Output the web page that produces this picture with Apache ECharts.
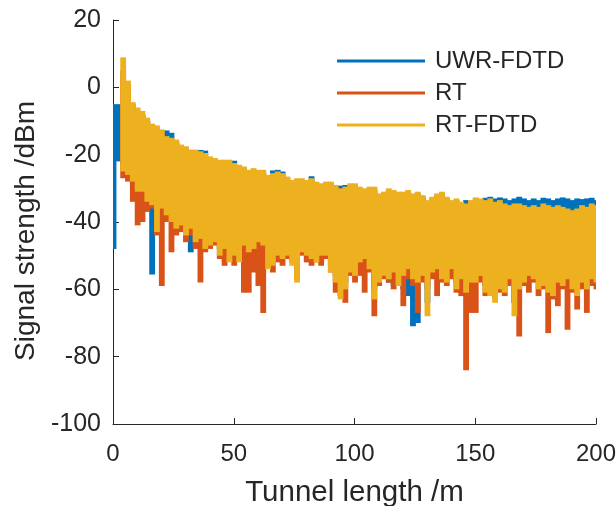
<!DOCTYPE html>
<html lang="en">
<head>
<meta charset="UTF-8">
<title>Signal strength along the tunnel</title>
<script src="https://cdn.jsdelivr.net/npm/echarts@6.0.0/dist/echarts.min.js"></script>
<style>
  body { margin: 0; background: #fff; }
  #chart { width: 616px; height: 506px; }
</style>
</head>
<body>
<div id="chart"></div>
<script>
// Each trace is kept as an upper and lower value per 2 m sample (x = 0, 2, ..., 200),
// read off the dense measured curve.
const seriesNames = ['UWR-FDTD', 'RT', 'RT-FDTD'];
const seriesColors = ['#0072BD', '#D95319', '#EDB120'];
const stepM = 2;
const xTicks = [0, 50, 100, 150, 200];

const uwrTop = [
  -5, -5, -5.5, -7, -8, -8, -8.5, -10, -11.5, -12, -13, -12.8, -13.5, -16, -17.5, -18, -19, -19, -18.6, -18.8,
  -21, -21.5, -22, -22, -22, -21.8, -23.5, -24, -25, -24.5, -25, -25, -26.5, -24.7, -24.5, -25, -27, -28, -27.5, -27.5,
  -28, -26.4, -28.5, -29, -28.5, -28.5, -29.5, -29.2, -29, -29, -29, -30, -30.5, -30, -30, -32, -31.5, -30.5, -31, -31.5,
  -31.5, -31, -32, -31.5, -32.5, -34, -33, -32, -31.5, -33, -34, -33.5, -34.5, -33.5, -34, -33, -33.5, -32.8, -32.5, -33,
  -32.7, -33, -33.5, -33, -32.5, -33, -33.5, -33, -33.5, -32.8, -33, -33.5, -33, -32.7, -33, -33.5, -33, -33.2, -33, -32.8,
  -33.5
];
const uwrBottom = [
  -48, -22, -23, -25, -27, -29, -30, -33, -55.6, -38, -35, -37, -39, -40, -40, -43, -49, -44, -44, -46,
  -45, -45, -48, -47, -49, -48, -50, -46, -48, -47, -45, -46, -52, -51, -49, -50, -49, -51, -55, -48,
  -49, -50, -50, -49, -49, -53, -56, -60, -58, -53, -54, -51, -50, -52, -60, -56, -55, -58, -59, -58,
  -60, -62, -71, -70, -57, -64, -56, -57, -56, -56, -53, -58, -56, -59, -56, -56, -55, -59, -60, -61,
  -58, -59, -56, -64, -58, -56, -55, -56, -58, -57, -59, -60, -57, -57, -56, -58, -60, -57, -58, -56,
  -57
];

const rtTop = [
  null, null, 5, 1, -5, -7, -8, -10, -11.5, -12.5, -13.5, -15.5, -16, -16.5, -18, -18.5, -19.5, -19.5, -20, -20.5,
  -21.5, -22, -22.5, -22.5, -22.5, -23.5, -24, -24.5, -25.5, -25, -25.5, -25.5, -27, -26.5, -26, -26.5, -27.5, -28.5, -28, -28,
  -28.5, -28, -29, -29.5, -29, -29, -30, -31, -30.5, -29.5, -29.5, -30.5, -31, -30.5, -30.5, -32.5, -32, -31, -31.5, -32,
  -32, -31.5, -32.5, -32, -33, -34.5, -33.5, -32.5, -32, -33.5, -34.5, -34, -35, -35.5, -34.5, -34, -34, -34.5, -34, -35,
  -34.5, -35.5, -36, -35.5, -35.5, -36, -36.5, -36, -36.5, -35.5, -36, -36.5, -36, -36.5, -37, -37.5, -37, -36, -36.5, -35.5,
  -36
];
const rtBottom = [
  null, null, -27, -28, -34, -41, -40, -37, -36, -44, -59, -40, -49, -44, -43, -46, -44, -48, -58, -49,
  -48, -47, -51, -53, -50, -53, -51, -61, -61, -55, -59, -67, -50, -55, -52, -53, -51, -52, -57, -50,
  -52, -53, -52, -53, -51, -55, -61, -62, -64, -56, -58, -56, -61, -55, -68, -59, -57, -58, -60, -59,
  -65, -57, -59, -67, -58, -60, -57, -62, -58, -59, -57, -61, -62, -84, -67, -67, -58, -62, -60, -63,
  -61, -62, -59, -64, -74, -59, -61, -58, -62, -60, -73, -63, -65, -60, -72, -61, -66, -60, -67, -59,
  -60
];

const rtFdtdTop = [
  null, null, 8.9, 2, -4.4, -6, -7, -9, -10.8, -11.3, -12.5, -14.5, -15, -15.5, -17, -17.5, -18.5, -18.5, -19, -19.5,
  -20.5, -21, -21.5, -21.5, -21.5, -22.5, -23, -23.5, -24.5, -24, -24.5, -24.5, -26, -25.5, -25, -25.5, -26.5, -27.5, -27, -27,
  -27.5, -27, -28, -28.5, -28, -28, -29, -30, -29.5, -28.5, -28.5, -29.5, -30, -29.5, -29.5, -31.5, -31, -30, -30.5, -31,
  -31, -30.5, -31.5, -31, -32, -33.5, -32.5, -31.5, -31, -32.5, -33.5, -33, -34, -34.5, -33.5, -32.7, -33, -33.5, -33, -34,
  -33.5, -34.5, -35, -34.5, -34.5, -35, -35.5, -35, -35.5, -34.5, -35, -35.5, -35, -35.5, -36, -36.5, -36, -35, -35.5, -34.5,
  -35
];
const rtFdtdBottom = [
  null, null, -25, -26, -28, -31, -31, -34, -35, -43, -36, -38, -40, -42, -41, -44, -42, -46, -45, -48,
  -47, -46, -50, -48, -52, -50, -52, -47, -49, -48, -46, -47, -54, -53, -50, -51, -50, -53, -58, -49,
  -50, -51, -52, -50, -50, -55, -58, -63, -60, -55, -56, -52, -51, -54, -63, -58, -56, -57, -55, -59,
  -56, -54, -57, -58, -56, -68, -55, -54, -57, -58, -54, -60, -57, -61, -58, -58, -56, -61, -62, -64,
  -60, -61, -57, -68, -60, -58, -56, -57, -60, -59, -61, -62, -58, -59, -57, -60, -62, -58, -60, -57,
  -58
];

const traces = [
  [uwrTop, uwrBottom],
  [rtTop, rtBottom],
  [rtFdtdTop, rtFdtdBottom]
];

// one [x, top, bottom] row per sample
function toRows(tops, bottoms) {
  const rows = [];
  tops.forEach(function (t, i) {
    if (t === null) return;
    rows.push([i * stepM, t, bottoms[i]]);
  });
  return rows;
}

// the dense trace is drawn as a column per sample, from its top to its bottom value
function renderColumn(params, api) {
  const x = api.value(0);
  const a = api.coord([x - stepM / 2, api.value(1)]);
  const b = api.coord([x + stepM / 2, api.value(2)]);
  return {
    type: 'rect',
    shape: { x: a[0], y: a[1], width: b[0] - a[0] + 1, height: b[1] - a[1] },
    style: { fill: api.visual('color') }
  };
}

const font = 'Liberation Sans, Arial, Helvetica, sans-serif';
const ink = '#262626';

const chart = echarts.init(document.getElementById('chart'), null, { renderer: 'canvas' });

chart.setOption({
  animation: false,
  grid: { left: 113, right: 20, top: 20, bottom: 82, containLabel: false, outerBoundsMode: 'none' },
  legend: {
    orient: 'vertical',
    left: 337,
    top: 49,
    padding: 0,
    icon: 'rect',
    itemWidth: 88,
    itemHeight: 3,
    itemGap: 8,
    selectedMode: false,
    data: seriesNames.map(function (n, k) {
      return { name: n, itemStyle: { color: seriesColors[k] } };
    }),
    textStyle: { fontSize: 24, lineHeight: 24, color: ink, fontFamily: font, padding: [0, 0, 0, 5] }
  },
  xAxis: {
    type: 'value',
    min: xTicks[0],
    max: xTicks[xTicks.length - 1],
    interval: 50,
    name: 'Tunnel length /m',
    nameLocation: 'middle',
    nameGap: 54,
    nameTextStyle: { fontSize: 29.5, color: ink, fontFamily: font },
    axisLine: { show: true, onZero: false, lineStyle: { color: ink, width: 1 } },
    axisTick: { show: true, inside: true, length: 6, lineStyle: { color: ink } },
    axisLabel: { fontSize: 24, color: ink, fontFamily: font, margin: 18 },
    splitLine: { show: false }
  },
  yAxis: {
    type: 'value',
    min: -100,
    max: 20,
    interval: 20,
    name: 'Signal strength /dBm',
    nameLocation: 'middle',
    nameGap: 67,
    nameTextStyle: { fontSize: 28, color: ink, fontFamily: font, padding: [0, 18, 0, 0] },
    axisLine: { show: true, onZero: false, lineStyle: { color: ink, width: 1 } },
    axisTick: { show: true, inside: true, length: 6, lineStyle: { color: ink } },
    axisLabel: { fontSize: 25, color: ink, fontFamily: font, margin: 12 },
    splitLine: { show: false }
  },
  series: traces.map(function (tr, k) {
    return {
      name: seriesNames[k],
      type: 'custom',
      renderItem: renderColumn,
      data: toRows(tr[0], tr[1]),
      encode: { x: 0, y: [1, 2] },
      clip: true,
      silent: true,
      itemStyle: { color: seriesColors[k] },
      z: 2 + k
    };
  })
});
</script>
</body>
</html>
